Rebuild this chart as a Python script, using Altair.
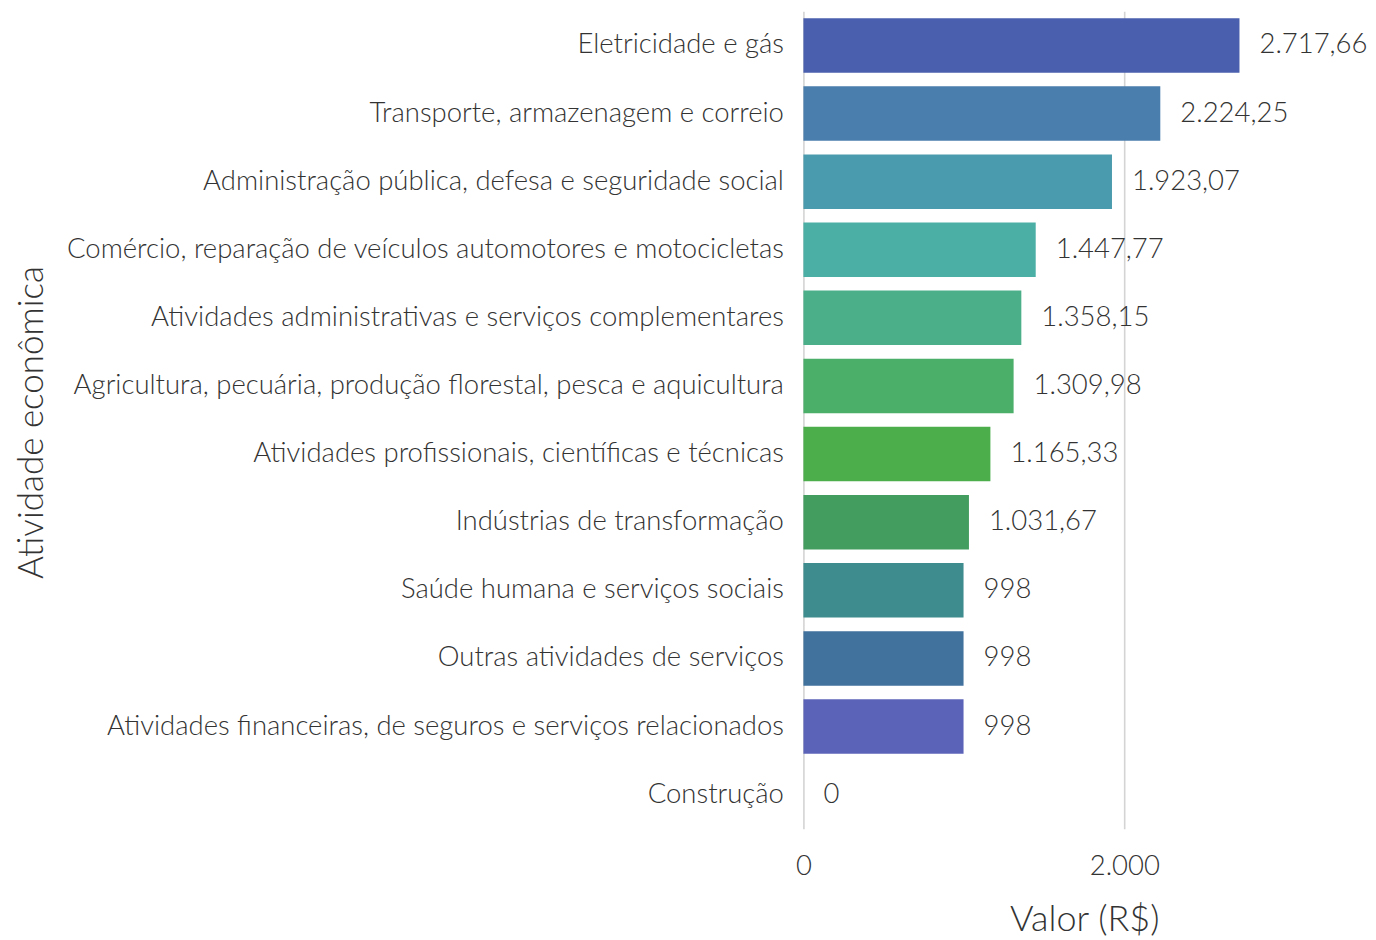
import altair as alt
import pandas as pd

categorias = [
    "Eletricidade e gás",
    "Transporte, armazenagem e correio",
    "Administração pública, defesa e seguridade social",
    "Comércio, reparação de veículos automotores e motocicletas",
    "Atividades administrativas e serviços complementares",
    "Agricultura, pecuária, produção florestal, pesca e aquicultura",
    "Atividades profissionais, científicas e técnicas",
    "Indústrias de transformação",
    "Saúde humana e serviços sociais",
    "Outras atividades de serviços",
    "Atividades financeiras, de seguros e serviços relacionados",
    "Construção",
]
valores = [2717.66, 2224.25, 1923.07, 1447.77, 1358.15, 1309.98, 1165.33, 1031.67, 998, 998, 998, 0]

cores = ["#4A5FAD", "#4A7EAD", "#4A9BAD", "#4BAFA6", "#4BB089", "#4BAF6A",
         "#4BAE4B", "#439D5F", "#3F8C8E", "#41719D", "#5B63B8", "#C4B8E0"]


def fmt(v):
    if float(v).is_integer():
        s = f"{int(v):,}"
        return s.replace(",", ".")
    s = f"{v:,.2f}"
    return s.replace(",", "X").replace(".", ",").replace("X", ".")


df = pd.DataFrame({
    "Atividade": categorias,
    "Valor": valores,
    "Rotulo": [fmt(v) for v in valores],
})

FONT = "'Lato Light', Lato, sans-serif"
TXT = "#333333"
FS = 27.5

y = alt.Y(
    "Atividade:N",
    sort=None,
    scale=alt.Scale(paddingInner=0.2, paddingOuter=0.1),
    axis=alt.Axis(
        title="Atividade econômica",
        titleFont=FONT, titleFontSize=35, titleFontWeight=300, titleColor=TXT,
        titleX=-761, titleY=411, titleAngle=270, titleAlign="center", titleBaseline="alphabetic",
        labelFont=FONT, labelFontSize=FS, labelFontWeight=300, labelColor=TXT,
        labelPadding=20, labelLimit=900,
        ticks=False, domain=False, grid=False,
    ),
)
x = alt.X(
    "Valor:Q",
    scale=alt.Scale(domain=[0, 3500], nice=False),
    axis=alt.Axis(
        title="Valor (R$)",
        titleFont=FONT, titleFontSize=36, titleFontWeight=300, titleColor=TXT,
        titlePadding=22,
        labelFont=FONT, labelFontSize=FS, labelFontWeight=300, labelColor=TXT,
        labelPadding=24, labelFlush=False,
        values=[0, 2000],
        labelExpr="replace(format(datum.value, ','), ',', '.')",
        ticks=False, domain=False,
        grid=True, gridColor="#d4d4d4", gridWidth=1.6,
    ),
)

bars = alt.Chart(df).mark_bar().encode(
    x=x,
    y=y,
    color=alt.Color("Atividade:N", sort=None,
                    scale=alt.Scale(domain=categorias, range=cores), legend=None),
)

labels = alt.Chart(df).mark_text(
    align="left", baseline="middle", dx=20,
    font=FONT, fontSize=FS, fontWeight=300, color=TXT,
).encode(
    x="Valor:Q",
    y=alt.Y("Atividade:N", sort=None),
    text="Rotulo:N",
)

chart = (bars + labels).properties(
    width=562, height=818,
    autosize=alt.AutoSizeParams(type="none"),
    padding={"top": 3, "left": 796, "right": 3, "bottom": 109},
).configure_view(stroke=None)

chart.save("out.html", embed_options={"renderer": "svg", "actions": False})
